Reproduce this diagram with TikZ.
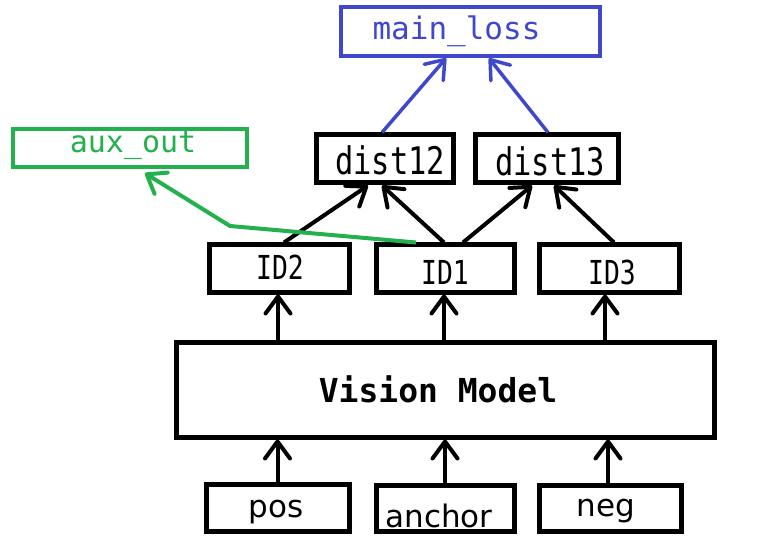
\documentclass[tikz,border=0pt]{standalone}
\usepackage{fontspec}
\newfontfamily\monof{DejaVu Sans Mono}
\newfontfamily\narf[FakeStretch=0.8]{DejaVu Sans Mono}
\newfontfamily\sansf{DejaVu Sans}
\usetikzlibrary{arrows.meta,calc}
\definecolor{pblue}{RGB}{63,72,204}
\definecolor{pgreen}{RGB}{34,177,76}
\tikzset{
 box/.style={draw, line width=5pt, rectangle, inner sep=0pt},
 arr/.style={line width=4pt, -{Straight Barb[length=17pt,width=25pt,round]}},
 barr/.style={arr, draw=pblue, line width=3.5pt},
 garr/.style={arr, draw=pgreen, line width=4pt},
 mt/.style={font={\monof\fontsize{#1pt}{#1pt}\selectfont}},
 nt/.style={font={\narf\fontsize{#1pt}{#1pt}\selectfont}},
 st/.style={font={\sansf\fontsize{#1pt}{#1pt}\selectfont}},
}
\begin{document}
\begin{tikzpicture}[x=1pt,y=-1pt]
\useasboundingbox (0,0) rectangle (765,537);
\node[box, draw=pblue, line width=4.5pt, minimum width=259pt, minimum height=49pt,
  label={[xshift=-14pt,text=pblue,mt=31]center:main\_loss}] (main) at (470.5,31.5) {};
\node[box, draw=pgreen, line width=4.5pt, minimum width=234pt, minimum height=38pt,
  label={[xshift=3pt,yshift=2pt,text=pgreen,mt=30]center:aux\_out}] (aux) at (130,148) {};
\node[box, minimum width=137pt, minimum height=48pt,
  label={[xshift=5.5pt,yshift=-1pt,nt=38]center:dist12}] (d12) at (384.5,159) {};
\node[box, minimum width=143pt, minimum height=48pt,
  label={[xshift=3.5pt,yshift=-2pt,nt=38]center:dist13}] (d13) at (546.5,159) {};
\node[box, minimum width=140pt, minimum height=47pt,
  label={[xshift=1pt,yshift=1.5pt,nt=33]center:ID2}] (id2) at (279,268.5) {};
\node[box, minimum width=138pt, minimum height=47pt,
  label={[yshift=-3.5pt,nt=33]center:ID1}] (id1) at (445,268.5) {};
\node[box, minimum width=140pt, minimum height=47pt,
  label={[xshift=3pt,yshift=-3.5pt,nt=33]center:ID3}] (id3) at (609,268.5) {};
\node[box, minimum width=538pt, minimum height=95pt,
  label={[xshift=-7pt,font={\monof\bfseries\fontsize{33pt}{33pt}\selectfont}]center:Vision Model}] (vis) at (445,389.5) {};
\node[box, minimum width=143pt, minimum height=47pt,
  label={[xshift=-1.5pt,yshift=-5pt,st=31]center:pos}] (pos) at (277.5,507.5) {};
\node[box, minimum width=138pt, minimum height=46pt,
  label={[xshift=-6pt,yshift=-8pt,st=31]center:anchor}] (anc) at (445,508) {};
\node[box, minimum width=142pt, minimum height=46pt,
  label={[xshift=-4pt,yshift=-3pt,st=31]center:neg}] (neg) at (610,508) {};
% inputs to model
\draw[arr] (pos.north) -- (pos.north |- vis.south);
\draw[arr] (anc.north) -- (anc.north |- vis.south);
\draw[arr] ([xshift=-2pt]neg.north) -- ([xshift=-2pt]neg.north |- vis.south);
% model to ids
\draw[arr] ([xshift=-1pt]id2.south |- vis.north) -- ([xshift=-1pt]id2.south);
\draw[arr] ([xshift=-1pt]id1.south |- vis.north) -- ([xshift=-1pt]id1.south);
\draw[arr] ([xshift=-4pt]id3.south |- vis.north) -- ([xshift=-4pt]id3.south);
% ids to dists
\draw[arr] ([xshift=5pt]id2.north) -- ([xshift=-16.5pt]d12.south);
\draw[arr] ([xshift=-1pt]id1.north) -- ([xshift=-2.5pt]d12.south);
\draw[arr] ([xshift=18pt]id1.north) -- ([xshift=-14.5pt]d13.south);
\draw[arr] ([xshift=5pt]id3.north) -- ([xshift=7.5pt]d13.south);
% dists to main
\draw[barr] ([xshift=-2.5pt]d12.north) -- ([xshift=-24.5pt]main.south);
\draw[barr] ([xshift=1.5pt]d13.north) -- ([xshift=18.5pt]main.south);
% aux
\coordinate (bend) at (230,226);
\draw[garr] ([xshift=-29pt]id1.north) -- (bend) -- ([xshift=15pt,yshift=-4pt]aux.south);
\end{tikzpicture}
\end{document}
